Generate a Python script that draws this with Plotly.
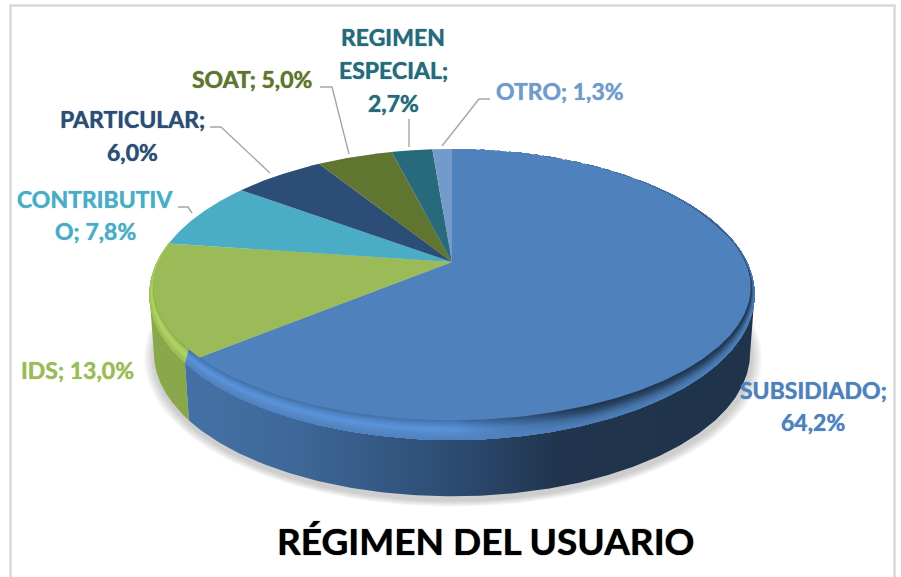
import numpy as np
import plotly.graph_objects as go

# ---- data ----
categories = ["SUBSIDIADO", "IDS", "CONTRIBUTIVO", "PARTICULAR", "SOAT", "REGIMEN ESPECIAL", "OTRO"]
values = [64.2, 13.0, 7.8, 6.0, 5.0, 2.7, 1.3]
slice_colors = ["#4F81BD", "#9BBB59", "#4BACC6", "#2C4D75", "#5F7530", "#276A7C", "#729ACA"]
chart_title = "RÉGIMEN DEL USUARIO"
# where each data label wraps (character positions), and where it sits
label_breaks = [[11], [], [11], [11], [], [7, 17], []]
label_pos = [(813, [390, 422]), (77, [370]), (95, [199, 231]), (132, [119, 152]),
             (252, [79]), (393, [37, 70, 103]), (560, [91])]
leaders = [
    [(178, 207), (188, 207), (192, 213)],
    [(210, 127), (221, 127), (270, 173)],
    [(320, 87), (332, 87), (349, 154)],
    [(409, 119), (409, 147)],
    [(490, 99), (479, 99), (442, 146)],
]

# ---- perspective projection of the pie disc to the page ----
CX, CY = 452.0, 262.0
A, K, P = 295.0, 138.2, 0.2234
DROP, SHR = 59.0, 0.985


def project(theta, r=1.0):
    X, Y = r * np.sin(theta), r * np.cos(theta)
    d = 1 + P * Y
    return CX + A * X / d, CY - K * Y / d


def bottom(theta):
    x, y = project(theta)
    return CX + SHR * (x - CX), CY + DROP + SHR * (y - CY)


def arc(a, b, n=200):
    return np.linspace(a, b, n)


def band(theta, t):
    """Rim of the bevel: t=0 is the outer rim, t=1 the inner edge on the flat face."""
    Y = np.cos(theta)
    shrink = 0.012 * np.clip((0.8 - Y) / 0.8, 0, 1) * (1 - t)
    x, y = project(theta, 1 - shrink)
    lift = 17 * np.clip((0.3 - Y) / 1.3, 0, 1) * (1 - t)
    return x, y - lift


def poly(x, y, color=None, grad=None, start=150, stop=755):
    kw = dict(x=np.append(x, x[0]), y=np.append(y, y[0]), mode="lines", fill="toself",
              line=dict(width=0), hoverinfo="skip", showlegend=False)
    if grad is not None:
        kw["fillgradient"] = dict(type="horizontal", colorscale=grad, start=start, stop=stop)
    else:
        kw["fillcolor"] = color
    return go.Scatter(**kw)


def mix(c1, c2, t):
    a = [int(c1[i:i + 2], 16) for i in (1, 3, 5)]
    b = [int(c2[i:i + 2], 16) for i in (1, 3, 5)]
    return "rgb(%d,%d,%d)" % tuple(round(u + (v - u) * t) for u, v in zip(a, b))


def profile(stops, t):
    for (t0, c0), (t1, c1) in zip(stops, stops[1:]):
        if t <= t1:
            return mix(c0, c1, (t - t0) / (t1 - t0))
    return stops[-1][1]


fig = go.Figure()
cum = np.cumsum([0] + values) / sum(values) * 2 * np.pi

# soft shadow under the pie
th = arc(0, 2 * np.pi, 240)
bx, by = bottom(th)
for s in (1.036, 1.03, 1.024, 1.018, 1.012, 1.006):
    fig.add_trace(poly(CX + s * (bx - CX) + 1, CY + DROP + s * (by - CY - DROP) + 4, "rgba(90,90,90,0.055)"))

# side wall (front part only)
th_side = np.pi - np.arcsin(np.sqrt(1 - P ** 2))
wall_spec = [
    (th_side, cum[1], [[0, "#4674AA"], [0.25, "#3D6797"], [0.5, "#2D4C72"], [0.68, "#20344D"], [1, "#1F334A"]]),
    (cum[1], 2 * np.pi - th_side, [[0, "#89A84B"], [1, "#83A245"]]),
]
for a, b, g in wall_spec:
    t = arc(a, b)
    x1, y1 = project(t)
    x2, y2 = bottom(t)
    fig.add_trace(poly(np.r_[x1, x2[::-1]], np.r_[y1, y2[::-1]], grad=g))

# top face slices
for i, col in enumerate(slice_colors):
    t = arc(cum[i], cum[i + 1], 120)
    x, y = project(t)
    fig.add_trace(poly(np.r_[CX, x], np.r_[CY, y], col))

# bevel along the near rim
left_blue = [(0, "#4272A8"), (0.2, "#4F85C8"), (0.45, "#5A94DA"), (0.75, "#5487C6"), (1, "#4F81BD")]
right_blue = [(0, "#20344D"), (0.25, "#2A4568"), (0.5, "#3B6391"), (0.75, "#4877AE"), (1, "#4F81BD")]
left_green = [(0, "#8EAD4E"), (0.2, "#A6C95E"), (0.45, "#B2D664"), (0.75, "#A3C55C"), (1, "#9BBB59")]
STEPS = 16
for k in range(STEPS):
    tk = k / STEPS
    tb = arc(0, cum[1], 320)
    xo, yo = band(tb, tk)
    xi, yi = band(tb, 1)
    L, R = profile(left_blue, tk), profile(right_blue, tk)
    fig.add_trace(poly(np.r_[xo, xi[::-1]], np.r_[yo, yi[::-1]],
                       grad=[[0, L], [0.5, L], [0.72, R], [1, R]]))
    tg = arc(cum[1], cum[2], 100)
    xo, yo = band(tg, tk)
    xi, yi = band(tg, 1)
    fig.add_trace(poly(np.r_[xo, xi[::-1]], np.r_[yo, yi[::-1]], profile(left_green, tk)))

# data labels
annotations = []
for i, cat in enumerate(categories):
    full = f"{cat}; {values[i]:.1f}%".replace(".", ",")
    cuts = [0] + label_breaks[i] + [len(full)]
    lines = [full[p:q].strip() for p, q in zip(cuts, cuts[1:])]
    cx, ys = label_pos[i]
    for ln, yy in zip(lines, ys):
        annotations.append(dict(x=cx, y=yy, text=f"<b>{ln}</b>", showarrow=False, xanchor="center",
                                yanchor="middle",
                                font=dict(family="Lato", size=23, color=slice_colors[i],
                                          shadow=f"0 0 1px {slice_colors[i]}")))
annotations.append(dict(x=486, y=540, text=f"<b>{chart_title}</b>", showarrow=False, xanchor="center",
                        yanchor="middle",
                        font=dict(family="Lato", size=37, color="#000000", shadow="0 0 1px #000000")))

shapes = [
    dict(type="path", path="M" + " L".join(f"{x},{y}" for x, y in pts),
         line=dict(color="#A6A6A6", width=1.4), layer="above")
    for pts in leaders
]
# chart-area border, open at the page bottom
shapes.append(dict(type="path", path="M10.5,578 L10.5,5.5 L444.5,5.5 L894.5,5.5 L894.5,578",
                   line=dict(color="#D9D9D9", width=2.5), layer="below"))

fig.update_layout(
    width=901, height=577, margin=dict(l=0, r=0, t=0, b=0),
    paper_bgcolor="#FFFFFF", plot_bgcolor="#FFFFFF", showlegend=False,
    xaxis=dict(range=[0, 901], visible=False, fixedrange=True),
    yaxis=dict(range=[577, 0], visible=False, fixedrange=True),
    annotations=annotations, shapes=shapes,
)
fig.write_html("out.html", config={"displayModeBar": False},
               post_script="document.body.style.margin='0';document.body.style.overflow='hidden';")
